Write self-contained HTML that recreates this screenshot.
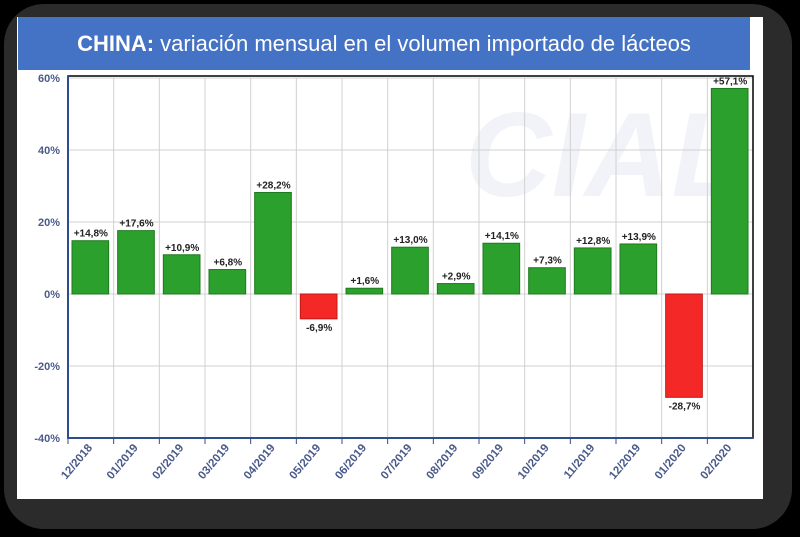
<!DOCTYPE html>
<html><head><meta charset="utf-8"><style>
html,body{margin:0;padding:0;background:#000;}
body{width:800px;height:537px;position:relative;overflow:hidden;font-family:"Liberation Sans",sans-serif;}
</style></head><body>
<div style="position:absolute;left:4px;top:4px;width:788px;height:525px;border-radius:40px;background:#2b2b2b;"></div>
<div style="position:absolute;left:17px;top:17px;width:746px;height:482px;background:#fff;"></div>
<div style="position:absolute;left:18px;top:17px;width:732px;height:53px;background:#4472c4;color:#fff;font-size:22px;line-height:53px;text-align:center;font-family:'Liberation Sans',sans-serif;"><b>CHINA:</b> variación mensual en el volumen importado de lácteos</div>
<svg id="chart" width="800" height="537" style="position:absolute;left:0;top:0;"></svg>
<script>
const categories=["12/2018","01/2019","02/2019","03/2019","04/2019","05/2019","06/2019","07/2019","08/2019","09/2019","10/2019","11/2019","12/2019","01/2020","02/2020"];
const values=[14.8,17.6,10.9,6.8,28.2,-6.9,1.6,13.0,2.9,14.1,7.3,12.8,13.9,-28.7,57.1];
const labels=["+14,8%","+17,6%","+10,9%","+6,8%","+28,2%","-6,9%","+1,6%","+13,0%","+2,9%","+14,1%","+7,3%","+12,8%","+13,9%","-28,7%","+57,1%"];
const yTicks=[-40,-20,0,20,40,60];
const NS="http://www.w3.org/2000/svg";
const svg=document.getElementById('chart');
const L=68,R=753,T=78,B=438,yMin=-40,yMax=60;
const y=v=>B-(v-yMin)/(yMax-yMin)*(B-T);
const bw=(R-L)/categories.length;
const x=i=>L+i*bw;
function mk(t,a){const e=document.createElementNS(NS,t);for(const k in a)e.setAttribute(k,a[k]);svg.appendChild(e);return e;}
const wm=mk('text',{x:605,y:196,'text-anchor':'middle','font-size':120,'font-weight':'bold','font-style':'italic',fill:'#f1f3f9','font-family':'Liberation Sans, sans-serif'});


wm.textContent='CIAL';
yTicks.forEach(t=>{
 const g=mk('line',{x1:L,x2:R,y1:y(t),y2:y(t),stroke:'#d0d0d0','stroke-width':1});
 
 
 const tx=mk('text',{x:L-8,y:y(t)+4,'text-anchor':'end','font-size':11,'font-weight':'bold',fill:'#4a5a8a'});
 
 
 tx.textContent=t+'%';
});
categories.forEach((c,i)=>{
 if(i>0){const g=mk('line',{x1:x(i),x2:x(i),y1:T,y2:B,stroke:'#d0d0d0','stroke-width':1});
 
 }
 const tk=mk('line',{x1:x(i),x2:x(i),y1:B,y2:B+6,stroke:'#2f4d8a','stroke-width':1});
 
 
 const lx=x(i)+bw/2+2,ly=B+10;
 const tx=mk('text',{x:lx,y:ly,'text-anchor':'end','font-size':11.5,'font-weight':'bold',fill:'#4a5a8a',transform:`rotate(-50 ${lx} ${ly})`});
 
 
 tx.textContent=c;
});
values.forEach((v,i)=>{
 const pad=4,top=Math.min(y(v),y(0)),h=Math.abs(y(v)-y(0));
 const r=mk('rect',{x:x(i)+pad,y:top,width:bw-2*pad-1,height:h,fill:v>=0?'#2ca02c':'#f52828',stroke:v>=0?'#1e7a1e':'#c01818','stroke-width':1});
 
 
 const ty=v>=0?y(v)-4:y(v)+12;
 const tx=mk('text',{x:x(i)+bw/2,y:ty,'text-anchor':'middle','font-size':10,'font-weight':'bold',fill:'#222'});
 
 
 tx.textContent=labels[i];
});
const ax=mk('rect',{x:L,y:T-2,width:R-L,height:B-T+2,fill:'none',stroke:'#000','stroke-width':1.5});


const la=mk('line',{x1:L,x2:L,y1:T-2,y2:B,stroke:'#2f4d8a','stroke-width':2});


const ba=mk('line',{x1:L,x2:R,y1:B,y2:B,stroke:'#2f4d8a','stroke-width':2});


</script>
</body></html>
